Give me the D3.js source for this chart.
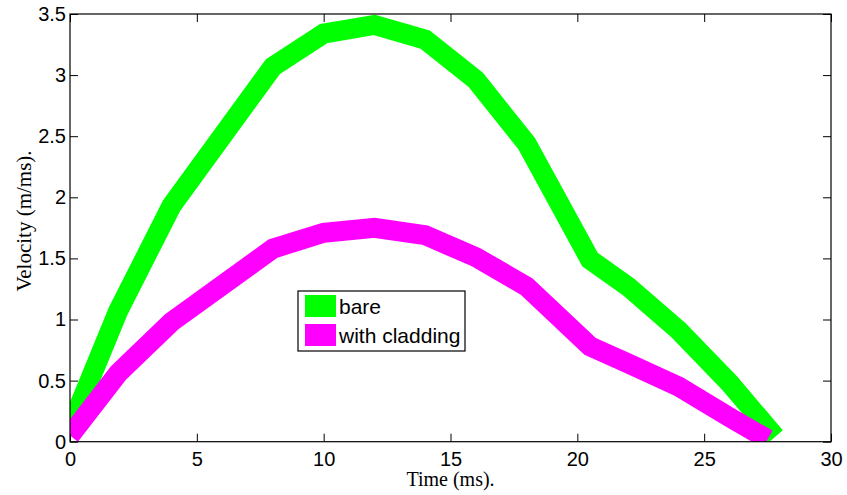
<!DOCTYPE html>
<html>
<head>
<meta charset="utf-8">
<script src="https://cdn.jsdelivr.net/npm/d3@7"></script>
<style>
  body { margin: 0; background: #fff; }
  svg { display: block; }
</style>
</head>
<body>
<svg></svg>
<script>
// data
let timeBare = [0, 1.9, 4, 8, 10, 12, 14, 16, 18, 20.5, 22, 24, 26, 27.8];
let bare = [0.11, 1.07, 1.93, 3.07, 3.34, 3.41, 3.29, 2.96, 2.44, 1.49, 1.27, 0.91, 0.48, 0.04];
let timeClad = [0, 1.9, 4, 8, 10, 12, 14, 16, 18, 20.5, 22, 24, 26, 27.5];
let clad = [0.05, 0.56, 0.98, 1.58, 1.71, 1.75, 1.69, 1.51, 1.27, 0.78, 0.64, 0.45, 0.2, 0.02];
let xTicks = [0, 5, 10, 15, 20, 25, 30];
let yTicks = [0, 0.5, 1, 1.5, 2, 2.5, 3, 3.5];
let seriesNames = ['bare', 'with cladding'];
let seriesColors = ['#00ff00', '#ff00ff'];

let width = 847;
let height = 495;
// plot box edges in pixels
let boxL = 70, boxR = 831, boxT = 14, boxB = 441.7;

let svg = d3.select('svg')
    .attr('width', width)
    .attr('height', height);

// scales
let xScale = d3.scaleLinear().domain([0, 30]).range([boxL, boxR]);
let yScale = d3.scaleLinear().domain([0, 3.5]).range([boxB, boxT]);

// clip lines to the plot box
svg.append('clipPath').attr('id', 'plotClip')
    .append('rect')
    .attr('x', boxL).attr('y', boxT)
    .attr('width', boxR - boxL).attr('height', boxB - boxT);

let line = d3.line()
    .x(function(d) { return xScale(d[0]); })
    .y(function(d) { return yScale(d[1]); });

let series = [
    d3.zip(timeBare, bare),
    d3.zip(timeClad, clad)
];

svg.append('g')
    .attr('clip-path', 'url(#plotClip)')
    .selectAll('path')
    .data(series)
    .enter()
    .append('path')
    .attr('d', line)
    .attr('fill', 'none')
    .attr('stroke', function(d, i) { return seriesColors[i]; })
    .attr('stroke-width', 20)
    .attr('stroke-linejoin', 'miter')
    .attr('stroke-linecap', 'butt');

// axes, ticks pointing inward on all four sides
let tickFont = function(g) {
    g.select('.domain').remove();
    g.selectAll('line').attr('stroke', '#000');
    g.selectAll('text')
        .attr('fill', '#000')
        .style('font-family', 'Liberation Sans, Arial, sans-serif')
        .style('font-size', '20px');
};

svg.append('g')
    .attr('transform', `translate(0, ${boxB})`)
    .call(d3.axisBottom(xScale).tickValues(xTicks).tickFormat(d => d)
        .tickSizeInner(-8).tickSizeOuter(0).tickPadding(10))
    .call(tickFont);

svg.append('g')
    .attr('transform', `translate(0, ${boxT})`)
    .call(d3.axisTop(xScale).tickValues(xTicks).tickFormat('')
        .tickSizeInner(-8).tickSizeOuter(0))
    .call(tickFont);

svg.append('g')
    .attr('transform', `translate(${boxL}, 0)`)
    .call(d3.axisLeft(yScale).tickValues(yTicks).tickFormat(d => d)
        .tickSizeInner(-8).tickSizeOuter(0).tickPadding(4))
    .call(tickFont);

svg.append('g')
    .attr('transform', `translate(${boxR}, 0)`)
    .call(d3.axisRight(yScale).tickValues(yTicks).tickFormat('')
        .tickSizeInner(-8).tickSizeOuter(0))
    .call(tickFont);

// the box
svg.append('rect')
    .attr('x', boxL).attr('y', boxT)
    .attr('width', boxR - boxL).attr('height', boxB - boxT)
    .attr('fill', 'none')
    .attr('stroke', '#000')
    .attr('stroke-width', 1.2);

// axis titles
svg.append('text')
    .attr('x', (boxL + boxR) / 2)
    .attr('y', 486)
    .attr('text-anchor', 'middle')
    .style('font-family', 'Liberation Serif, Times New Roman, serif')
    .style('font-size', '20px')
    .text('Time (ms).');

svg.append('text')
    .attr('transform', `translate(31, 221) rotate(-90)`)
    .attr('text-anchor', 'middle')
    .style('font-family', 'Liberation Serif, Times New Roman, serif')
    .style('font-size', '21px')
    .text('Velocity (m/ms).');

// legend
let legend = svg.append('g').attr('transform', 'translate(298, 291)');
legend.append('rect')
    .attr('x', 0).attr('y', 0)
    .attr('width', 167).attr('height', 60)
    .attr('fill', '#fff')
    .attr('stroke', '#000')
    .attr('stroke-width', 1.2);

let items = legend.selectAll('g.item')
    .data(seriesNames)
    .enter()
    .append('g')
    .attr('class', 'item')
    .attr('transform', function(d, i) { return `translate(7, ${4 + i * 29})`; });

items.append('rect')
    .attr('width', 31).attr('height', 22)
    .attr('fill', function(d, i) { return seriesColors[i]; });

items.append('text')
    .attr('x', 34)
    .attr('y', 19)
    .style('font-family', 'Liberation Sans, Arial, sans-serif')
    .style('font-size', '21px')
    .text(d => d);
</script>
</body>
</html>
